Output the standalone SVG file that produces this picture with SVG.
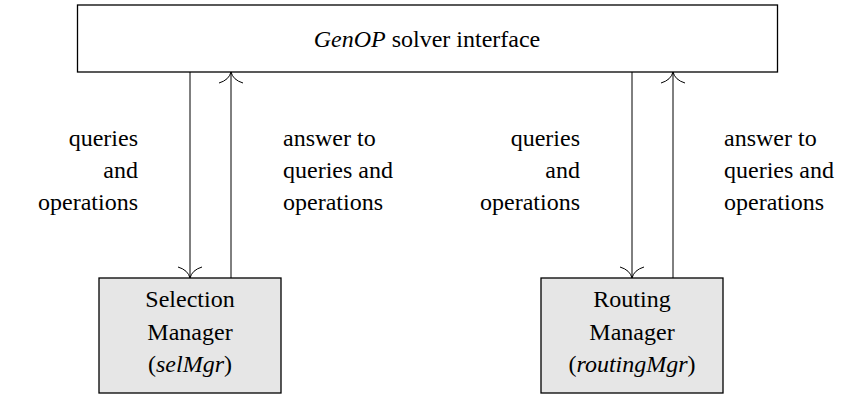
<svg xmlns="http://www.w3.org/2000/svg" width="864" height="395" viewBox="0 0 864 395">
<defs>
<marker id="ah" markerUnits="userSpaceOnUse" markerWidth="30" markerHeight="30" viewBox="-15 -15 30 30" refX="0" refY="0" orient="auto" overflow="visible">
<path d="M -11,-12 Q -8,-2 0,0 Q -8,2 -11,12" fill="none" stroke="#000" stroke-width="1"/>
</marker>
</defs>
<g id="solver">
<rect x="77.5" y="5" width="700" height="67" fill="#fff" stroke="#000" stroke-width="1.3"/>
<text x="427" y="47" text-anchor="middle" font-family="Times New Roman" font-size="24"><tspan font-family="Times New Roman" font-style="italic">GenOP</tspan> solver interface</text>
</g>
<g id="selMgr">
<rect x="99" y="278" width="182" height="115" fill="#e6e6e6" stroke="#000" stroke-width="1.3"/>
<text x="190" y="307" text-anchor="middle" font-family="Times New Roman" font-size="24">Selection</text>
<text x="190" y="340" text-anchor="middle" font-family="Times New Roman" font-size="24">Manager</text>
<text x="190" y="372" text-anchor="middle" font-family="Times New Roman" font-size="24">(<tspan font-family="Times New Roman" font-style="italic">selMgr</tspan>)</text>
</g>
<g id="routingMgr">
<rect x="541" y="278" width="182" height="115" fill="#e6e6e6" stroke="#000" stroke-width="1.3"/>
<text x="632" y="307" text-anchor="middle" font-family="Times New Roman" font-size="24">Routing</text>
<text x="632" y="340" text-anchor="middle" font-family="Times New Roman" font-size="24">Manager</text>
<text x="632" y="372" text-anchor="middle" font-family="Times New Roman" font-size="24">(<tspan font-family="Times New Roman" font-style="italic">routingMgr</tspan>)</text>
</g>
<g id="connectors" stroke="#000" stroke-width="1" fill="none">
<line x1="190" y1="72" x2="190" y2="278" marker-end="url(#ah)"/>
<line x1="231" y1="278" x2="231" y2="72" marker-end="url(#ah)"/>
<line x1="632" y1="72" x2="632" y2="278" marker-end="url(#ah)"/>
<line x1="673" y1="278" x2="673" y2="72" marker-end="url(#ah)"/>
</g>
<g id="labels">
<text x="138" y="146" text-anchor="end" font-family="Times New Roman" font-size="24">queries</text>
<text x="138" y="178" text-anchor="end" font-family="Times New Roman" font-size="24">and</text>
<text x="138" y="210" text-anchor="end" font-family="Times New Roman" font-size="24">operations</text>
<text x="283" y="146" font-family="Times New Roman" font-size="24">answer to</text>
<text x="283" y="178" font-family="Times New Roman" font-size="24">queries and</text>
<text x="283" y="210" font-family="Times New Roman" font-size="24">operations</text>
<text x="580" y="146" text-anchor="end" font-family="Times New Roman" font-size="24">queries</text>
<text x="580" y="178" text-anchor="end" font-family="Times New Roman" font-size="24">and</text>
<text x="580" y="210" text-anchor="end" font-family="Times New Roman" font-size="24">operations</text>
<text x="724" y="146" font-family="Times New Roman" font-size="24">answer to</text>
<text x="724" y="178" font-family="Times New Roman" font-size="24">queries and</text>
<text x="724" y="210" font-family="Times New Roman" font-size="24">operations</text>
</g>
</svg>
